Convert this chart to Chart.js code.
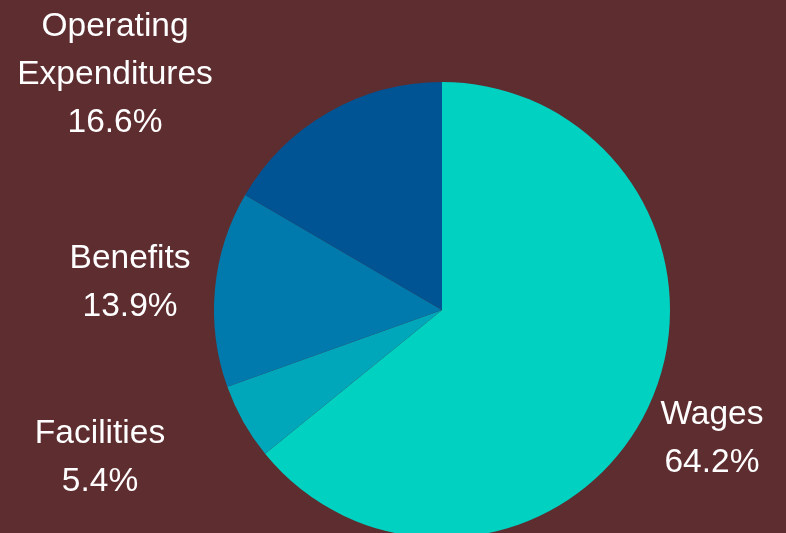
<!DOCTYPE html>
<html>
<head>
<meta charset="utf-8">
<script src="https://cdn.jsdelivr.net/npm/chart.js@4/dist/chart.umd.min.js"></script>
<style>
  html, body { margin: 0; padding: 0; background: #5e2d30; overflow: hidden; }
  #wrap { position: relative; width: 786px; height: 538px; }
</style>
</head>
<body>
<div id="wrap"><canvas id="budget_pie"></canvas></div>
<script>
// DATA
const categories = ["Wages", "Facilities", "Benefits", "Operating Expenditures"];
const shares = [64.2, 5.4, 13.9, 16.6];
const slice_colors = ["#00d1c1", "#00a6ba", "#007aac", "#005493"];

// label anchor offsets, in units of the pie radius
const label_offsets = [[1.184, 0.566], [-1.50, 0.649], [-1.368, -0.118], [-1.434, -1.030]];

const ctx = document.getElementById("budget_pie").getContext("2d");

const outsideLabels = {
	id: "outsideLabels",
	afterDatasetsDraw(chart){
		const c = chart.ctx;
		const meta = chart.getDatasetMeta(0);
		c.save();
		c.fillStyle = "#ffffff";
		c.font = "33.5px 'Liberation Sans', Arial, sans-serif";
		c.textAlign = "center";
		c.textBaseline = "middle";
		meta.data.forEach((arc, i) => {
			const r = arc.outerRadius;
			const x = arc.x + label_offsets[i][0] * r;
			const y = arc.y + label_offsets[i][1] * r;
			const lines = categories[i].split(" ");
			lines.push(shares[i].toFixed(1) + "%");
			const lh = 48;
			const top = y - (lines.length - 1) * lh / 2;
			lines.forEach((t, j) => c.fillText(t, x, top + j * lh));
		});
		c.restore();
	}
};

new Chart(ctx, {
	type: "pie",
	data: {
		labels: categories,
		datasets: [{
			data: shares,
			backgroundColor: slice_colors,
			borderWidth: 0
		}]
	},
	options: {
		responsive: true,
		maintainAspectRatio: false,
		animation: false,
		layout: { padding: { top: 82, left: 98, right: 0, bottom: 0 } },
		plugins: {
			legend: { display: false },
			tooltip: { enabled: false }
		}
	},
	plugins: [outsideLabels]
});
</script>
</body>
</html>
